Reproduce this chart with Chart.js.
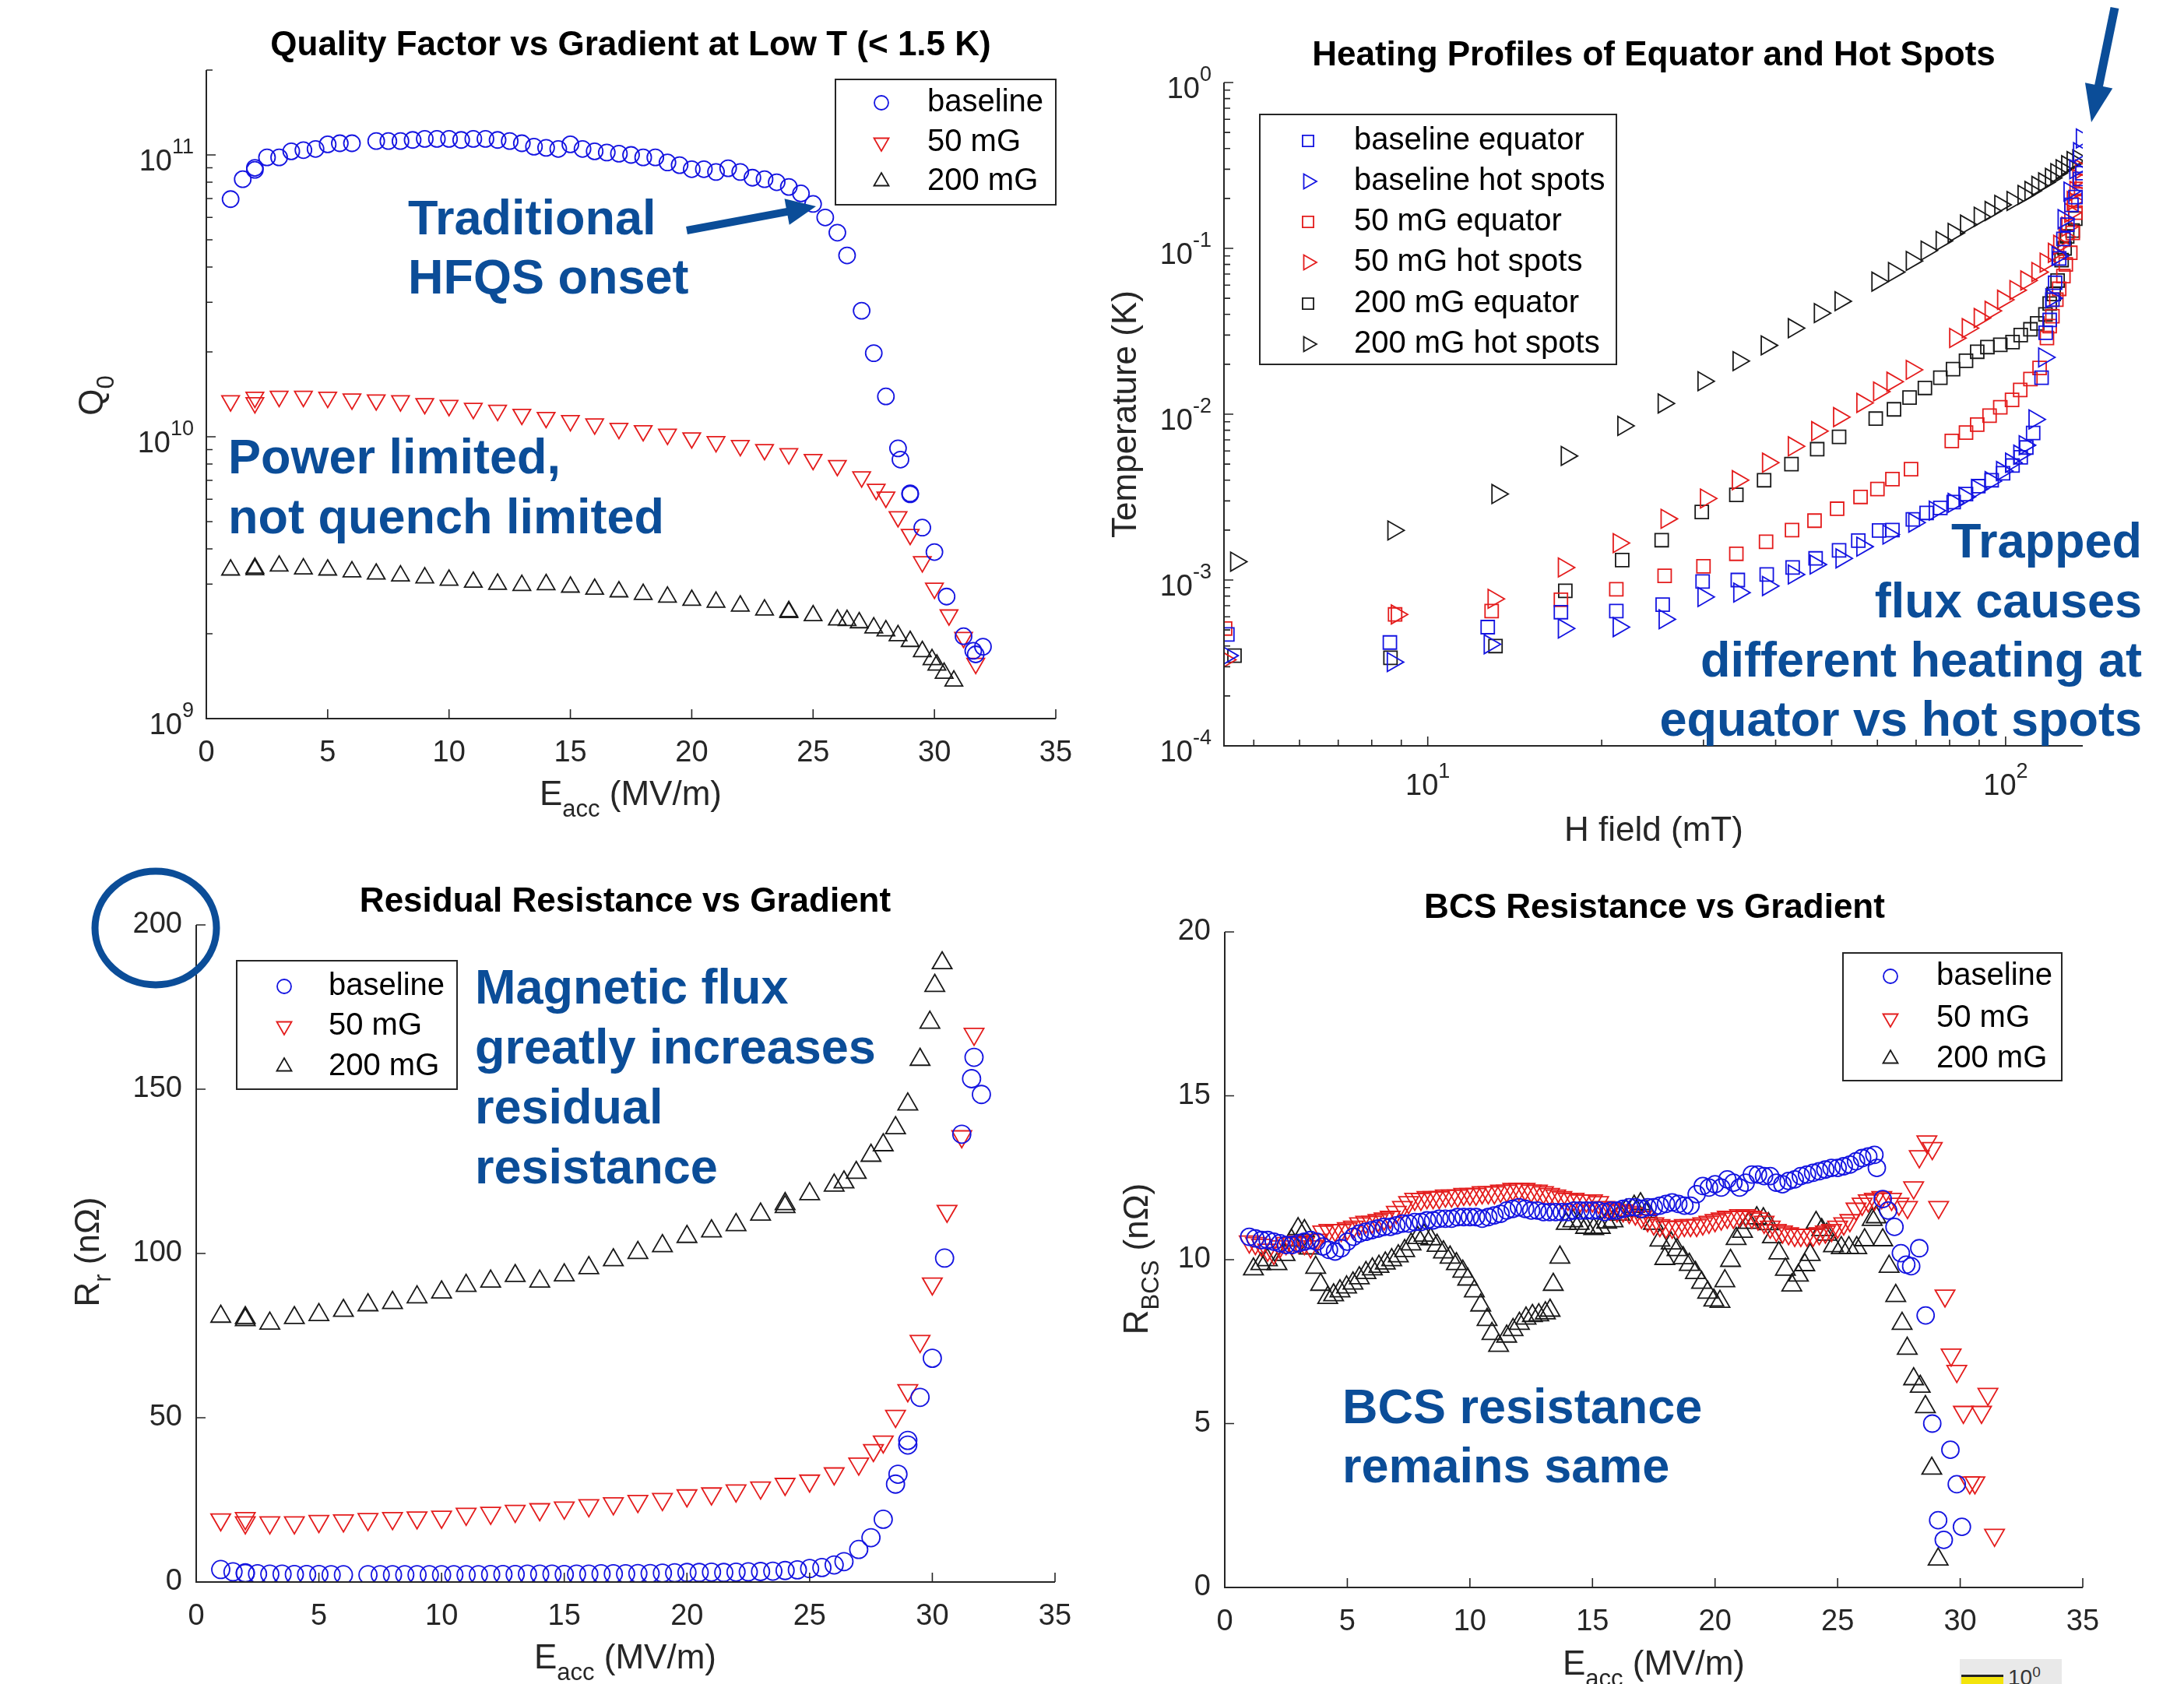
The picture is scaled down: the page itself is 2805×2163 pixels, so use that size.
<!DOCTYPE html>
<html>
<head>
<meta charset="utf-8">
<script src="https://cdn.jsdelivr.net/npm/chart.js@4.4.1/dist/chart.umd.min.js"></script>
<style>
    html, body { margin: 0; padding: 0; background: #fff; }
    body { width: 2805px; height: 2163px; position: relative; overflow: hidden; }
    canvas { position: absolute; }
    #cbar { position: absolute; left: 2517px; top: 2131px; width: 131px; height: 40px; background: #e9e9e9; }
    #cbarFill { position: absolute; left: 2px; top: 20px; width: 54px; height: 20px; background: #f3e40c; border-top: 3px solid #222; }
    #cbarTxt { position: absolute; left: 62px; top: 6px; font: 28px "Liberation Sans", Arial, sans-serif; color: #333; }
    #cbarTxt sup { font-size: 19px; }
</style>
</head>
<body>
<canvas id="qChart"></canvas>
<canvas id="tempChart"></canvas>
<canvas id="rresChart"></canvas>
<canvas id="bcsChart"></canvas>
<div id="cbar"><div id="cbarFill"></div><span id="cbarTxt">10<sup>0</sup></span></div>
<script>
// Colours and fonts
const INK = '#262626';
const NOTE = '#0b4d98';
const BLUE = 'rgb(20,20,225)';
const RED = 'rgb(228,28,28)';
const BLACK = 'rgb(25,25,25)';
const FAMILY = '"Liberation Sans", Arial, Helvetica, sans-serif';

// ---- Quality factor vs gradient (top left) ----
const qBaseE = [1, 1.5, 2, 2, 2.5, 3, 3.5, 4, 4.5, 5,
    5.5, 6, 7, 7.5, 8, 8.5, 9, 9.5, 10, 10.5,
    11, 11.5, 12, 12.5, 13, 13.5, 14, 14.5, 15, 15.5,
    16, 16.5, 17, 17.5, 18, 18.5, 19, 19.5, 20, 20.5,
    21, 21.5, 22, 22.5, 23, 23.5, 24, 24.5, 25, 25.5,
    26, 26.4, 27, 27.5, 28, 28.5, 28.6, 29, 29, 29.5,
    30, 30.5, 31.2, 31.6, 31.7, 32];
const qBaseQ = [6.97e10, 8.2e10, 8.85e10, 9.0e10, 9.8e10, 9.8e10, 1.03e11, 1.04e11, 1.05e11, 1.09e11,
    1.1e11, 1.1e11, 1.12e11, 1.12e11, 1.12e11, 1.13e11, 1.14e11, 1.14e11, 1.14e11, 1.13e11,
    1.14e11, 1.14e11, 1.13e11, 1.12e11, 1.10e11, 1.07e11, 1.06e11, 1.05e11, 1.09e11, 1.05e11,
    1.03e11, 1.02e11, 1.01e11, 1.0e11, 9.8e10, 9.8e10, 9.4e10, 9.2e10, 8.9e10, 8.9e10,
    8.7e10, 8.97e10, 8.7e10, 8.3e10, 8.2e10, 8.0e10, 7.7e10, 7.3e10, 6.7e10, 6.0e10,
    5.3e10, 4.4e10, 2.8e10, 1.98e10, 1.39e10, 9.1e9, 8.3e9, 6.3e9, 6.25e9, 4.76e9,
    3.9e9, 2.71e9, 1.96e9, 1.74e9, 1.69e9, 1.8e9];
const q50E = [1, 2, 2, 3, 4, 5, 6, 7, 8, 9,
    10, 11, 12, 13, 14, 15, 16, 17, 18, 19,
    20, 21, 22, 23, 24, 25, 26, 27, 27.6, 28,
    28.5, 29, 29.5, 30, 30.6, 31.2, 31.7];
const q50Q = [1.34e10, 1.38e10, 1.32e10, 1.39e10, 1.39e10, 1.38e10, 1.36e10, 1.35e10, 1.34e10, 1.31e10,
    1.29e10, 1.26e10, 1.24e10, 1.2e10, 1.17e10, 1.14e10, 1.11e10, 1.07e10, 1.05e10, 1.02e10,
    9.9e9, 9.6e9, 9.3e9, 9.0e9, 8.7e9, 8.3e9, 7.9e9, 7.2e9, 6.5e9, 6.1e9,
    5.2e9, 4.5e9, 3.6e9, 2.9e9, 2.33e9, 1.94e9, 1.57e9];
const q200E = [1, 2, 2, 3, 4, 5, 6, 7, 8, 9,
    10, 11, 12, 13, 14, 15, 16, 17, 18, 19,
    20, 21, 22, 23, 24, 24, 25, 26, 26.4, 26.9,
    27.5, 28, 28.5, 29, 29.5, 29.9, 30.1, 30.4, 30.8];
const q200Q = [3.37e9, 3.42e9, 3.38e9, 3.48e9, 3.4e9, 3.37e9, 3.32e9, 3.26e9, 3.21e9, 3.16e9,
    3.1e9, 3.05e9, 3.0e9, 2.97e9, 2.99e9, 2.93e9, 2.88e9, 2.82e9, 2.76e9, 2.7e9,
    2.63e9, 2.59e9, 2.51e9, 2.43e9, 2.4e9, 2.38e9, 2.32e9, 2.24e9, 2.23e9, 2.19e9,
    2.1e9, 2.05e9, 1.97e9, 1.88e9, 1.73e9, 1.62e9, 1.55e9, 1.45e9, 1.36e9];

// ---- Residual resistance vs gradient (bottom left), same gradients as above ----
const rrBase = [3.8, 3.1, 2.8, 2.6, 2.5, 2.4, 2.4, 2.3, 2.3, 2.3,
    2.2, 2.2, 2.2, 2.2, 2.2, 2.2, 2.2, 2.2, 2.2, 2.2,
    2.2, 2.2, 2.3, 2.3, 2.3, 2.4, 2.4, 2.4, 2.3, 2.4,
    2.4, 2.5, 2.5, 2.5, 2.6, 2.6, 2.7, 2.8, 2.9, 2.9,
    3.0, 2.9, 3.0, 3.1, 3.2, 3.3, 3.5, 3.7, 4.1, 4.4,
    5.2, 6.2, 9.9, 13.5, 19.1, 29.8, 32.8, 43.1, 41.7, 56.2,
    68.1, 98.6, 136.3, 153.2, 159.7, 148.4];
const rr50 = [19.0, 19.4, 18.1, 18.1, 18.1, 18.5, 18.7, 19.1, 19.4, 19.6,
    19.8, 20.7, 21.0, 21.6, 22.1, 22.6, 23.3, 23.9, 24.6, 25.2,
    26.3, 26.9, 27.8, 28.7, 29.8, 30.8, 33.0, 36.0, 40.1, 42.7,
    50.5, 58.3, 73.3, 90.8, 112.9, 135.6, 166.8];
const rr200 = [80.8, 80.4, 79.8, 78.7, 80.4, 81.3, 82.6, 84.3, 85.0, 86.7,
    88.2, 90.2, 91.5, 93.2, 91.5, 93.4, 95.6, 98.0, 100.2, 102.3,
    105.1, 106.8, 108.7, 111.9, 115.1, 114.2, 118.1, 120.7, 121.7, 124.6,
    129.8, 133.0, 138.2, 145.4, 159.0, 170.3, 181.5, 188.4, 230];

// ---- Heating profiles (top right): H field (mT) and temperature (K) ----
const bEqH = [4.5, 8.6, 12.7, 17.0, 21.2, 25.5, 29.9, 34.4, 38.6, 42.8,
    46.9, 51.5, 55.6, 60.4, 63.7, 69.1, 73.0, 77.1, 81.3, 85.4,
    89.7, 94.6, 99.0, 102.8, 106.2, 108.6, 111.6, 115.4, 117.3, 119.2,
    120.5, 121.8, 123.8, 125.9, 127.9, 130.0, 132.1, 134.5, 135.8];
const bEqT = [4.7e-4, 4.2e-4, 5.2e-4, 6.4e-4, 6.5e-4, 7.1e-4, 9.8e-4, 1.0e-3, 1.08e-3, 1.19e-3,
    1.35e-3, 1.51e-3, 1.73e-3, 1.99e-3, 2.0e-3, 2.32e-3, 2.54e-3, 2.72e-3, 2.95e-3, 3.3e-3,
    3.68e-3, 4.0e-3, 4.4e-3, 4.9e-3, 5.5e-3, 6.3e-3, 7.7e-3, 1.66e-2, 3.1e-2, 3.7e-2,
    4.9e-2, 6.2e-2, 8.7e-2, 0.114, 0.139, 0.183, 0.204, 0.262, 0.284];
const bHsH = [4.5, 8.7, 12.8, 17.2, 21.4, 25.7, 30.0, 34.6, 38.8, 43.0,
    46.9, 52.0, 56.5, 62.7, 69.5, 75.4, 81.3, 84.9, 89.3, 94.2,
    98.6, 102.2, 105.6, 107.9, 112.2, 116.6, 120.0, 123.0, 126.0, 129.0,
    132.0, 134.0, 135.5];
const bHsT = [3.5e-4, 3.2e-4, 4.1e-4, 5.1e-4, 5.2e-4, 5.8e-4, 7.9e-4, 8.4e-4, 9.2e-4, 1.08e-3,
    1.24e-3, 1.35e-3, 1.59e-3, 1.88e-3, 2.22e-3, 2.62e-3, 2.92e-3, 3.17e-3, 3.54e-3, 3.95e-3,
    4.54e-3, 5.1e-3, 5.7e-3, 6.5e-3, 9.3e-3, 2.2e-2, 5.0e-2, 9.0e-2, 0.15, 0.22,
    0.30, 0.38, 0.46];
const rEqH = [4.46, 8.78, 12.9, 17.0, 21.2, 25.7, 30.0, 34.2, 38.5, 42.7,
    46.7, 51.1, 56.1, 60.0, 63.7, 68.6, 80.7, 85.4, 89.3, 93.8,
    97.9, 102.6, 106.0, 110.4, 114.5, 117.9, 119.2, 120.5, 122.4, 123.8,
    125.9, 127.1, 129.4, 130.7, 132.1, 133.6, 135.1, 135.9];
const rEqT = [5.1e-4, 6.2e-4, 6.5e-4, 7.6e-4, 8.8e-4, 1.06e-3, 1.21e-3, 1.44e-3, 1.7e-3, 2.0e-3,
    2.28e-3, 2.69e-3, 3.17e-3, 3.54e-3, 4.06e-3, 4.66e-3, 6.9e-3, 7.75e-3, 8.65e-3, 9.8e-3,
    1.1e-2, 1.22e-2, 1.4e-2, 1.63e-2, 1.9e-2, 2.88e-2, 3.4e-2, 3.9e-2, 4.9e-2, 5.7e-2,
    6.8e-2, 8.0e-2, 9.4e-2, 0.124, 0.164, 0.193, 0.228, 0.254];
const rHsH = [4.46, 8.84, 13.0, 17.2, 21.4, 25.9, 30.3, 34.4, 38.8, 43.0,
    47.2, 51.5, 56.5, 60.4, 63.7, 68.8, 81.8, 86.0, 90.2, 94.2,
    99.0, 104.0, 108.6, 113.5, 117.3, 121.2, 123.8, 126.5, 127.9, 129.4,
    130.7, 132.1, 133.6, 135.0];
const rHsT = [3.3e-4, 6.2e-4, 7.7e-4, 1.19e-3, 1.67e-3, 2.34e-3, 3.1e-3, 4.0e-3, 5.1e-3, 6.4e-3,
    7.9e-3, 9.6e-3, 1.17e-2, 1.37e-2, 1.57e-2, 1.85e-2, 2.88e-2, 3.3e-2, 3.8e-2, 4.2e-2,
    4.9e-2, 5.6e-2, 6.4e-2, 7.2e-2, 8.2e-2, 9.4e-2, 0.105, 0.117, 0.135, 0.164,
    0.193, 0.222, 0.262, 0.30];
const kEqH = [4.63, 8.62, 13.1, 17.3, 21.7, 25.4, 29.8, 34.2, 38.2, 42.6,
    47.2, 51.5, 59.6, 64.1, 68.2, 72.5, 77.1, 81.1, 85.4, 89.3,
    93.0, 97.9, 102.8, 106.2, 110.4, 113.4, 117.2, 119.2, 121.1, 123.0,
    125.0, 126.5, 127.8, 130.6, 132.0];
const kEqT = [3.5e-4, 3.4e-4, 4.0e-4, 8.6e-4, 1.32e-3, 1.74e-3, 2.57e-3, 3.26e-3, 4.0e-3, 5.0e-3,
    6.15e-3, 7.3e-3, 9.4e-3, 1.07e-2, 1.26e-2, 1.44e-2, 1.66e-2, 1.87e-2, 2.1e-2, 2.38e-2,
    2.54e-2, 2.62e-2, 2.72e-2, 3.0e-2, 3.25e-2, 3.53e-2, 4.0e-2, 4.65e-2, 5.3e-2, 6.4e-2,
    8.5e-2, 0.10, 0.118, 0.128, 0.151];
const kHsH = [4.66, 8.72, 13.2, 17.4, 21.8, 25.6, 30.0, 34.5, 38.6, 43.0,
    47.7, 51.8, 60.0, 64.1, 68.8, 73.0, 77.5, 81.3, 85.4, 90.2,
    94.2, 97.9, 102.8, 107.4, 110.4, 113.5, 116.6, 119.8, 122.4, 125.0,
    127.8, 130.6, 133.6];
const kHsT = [1.29e-3, 1.99e-3, 3.3e-3, 5.6e-3, 8.5e-3, 1.16e-2, 1.58e-2, 2.09e-2, 2.6e-2, 3.3e-2,
    4.07e-2, 4.8e-2, 6.3e-2, 7.2e-2, 8.4e-2, 9.7e-2, 0.111, 0.124, 0.139, 0.155,
    0.168, 0.183, 0.193, 0.21, 0.222, 0.238, 0.25, 0.266, 0.284, 0.30,
    0.317, 0.336, 0.344];

// ---- BCS resistance vs gradient (bottom right) ----
const bcsBaseE = [1, 1.25, 1.5, 1.75, 2, 2.25, 2.5, 2.75, 3, 3.25, 3.5, 3.75,
    4, 4.25, 4.5, 4.75, 5, 5.25, 5.5, 5.75, 6, 6.25, 6.5, 6.75,
    7, 7.25, 7.5, 7.75, 8, 8.25, 8.5, 8.75, 9, 9.25, 9.5, 9.75,
    10, 10.25, 10.5, 10.75, 11, 11.25, 11.5, 11.75, 12, 12.25, 12.5, 12.75,
    13, 13.25, 13.5, 13.75, 14, 14.25, 14.5, 14.75, 15, 15.25, 15.5, 15.75,
    16, 16.25, 16.5, 16.75, 17, 17.25, 17.5, 17.75, 18, 18.25, 18.5, 18.75,
    19, 19.25, 19.5, 19.75, 20, 20.25, 20.5, 20.75, 21, 21.25, 21.5, 21.75,
    22, 22.25, 22.5, 22.75, 23, 23.25, 23.5, 23.75, 24, 24.25, 24.5, 24.75,
    25, 25.25, 25.5, 25.75, 26, 26.25, 26.5,
    26.6, 26.84, 27.06, 27.32, 27.58, 27.8, 28.0, 28.33, 28.59, 28.86, 29.1, 29.33, 29.6, 29.86, 30.07];
const bcsBaseR = [10.7, 10.65, 10.6, 10.6, 10.55, 10.5, 10.45, 10.45, 10.5, 10.55, 10.6, 10.55,
    10.4, 10.3, 10.25, 10.35, 10.55, 10.7, 10.8, 10.85, 10.9, 10.95, 11.0, 11.0,
    11.05, 11.1, 11.1, 11.15, 11.15, 11.2, 11.2, 11.25, 11.25, 11.25, 11.3, 11.3,
    11.3, 11.3, 11.25, 11.3, 11.35, 11.4, 11.5, 11.55, 11.6, 11.55, 11.5, 11.5,
    11.45, 11.45, 11.45, 11.45, 11.45, 11.5, 11.5, 11.5, 11.5, 11.5, 11.45, 11.5,
    11.5, 11.55, 11.6, 11.6, 11.55, 11.6, 11.6, 11.65, 11.7, 11.75, 11.7, 11.65,
    11.65, 12.0, 12.25, 12.2, 12.3, 12.2, 12.45, 12.35, 12.2, 12.35, 12.6, 12.6,
    12.55, 12.55, 12.35, 12.3, 12.4, 12.45, 12.55, 12.6, 12.65, 12.7, 12.75, 12.8,
    12.8, 12.85, 12.9, 13.0, 13.1, 13.15, 13.2,
    12.8, 11.85, 11.5, 11.0, 10.2, 9.85, 9.8, 10.35, 8.3, 5.0, 2.05, 1.45, 4.2, 3.15, 1.85];
const bcs50E = [1, 1.25, 1.5, 1.75, 2, 2.25, 2.5, 2.75, 3, 3.25, 3.5, 3.75,
    4, 4.25, 4.5, 4.75, 5, 5.25, 5.5, 5.75, 6, 6.25, 6.5, 6.75,
    7, 7.25, 7.5, 7.75, 8, 8.25, 8.5, 8.75, 9, 9.25, 9.5, 9.75,
    10, 10.25, 10.5, 10.75, 11, 11.25, 11.5, 11.75, 12, 12.25, 12.5, 12.75,
    13, 13.25, 13.5, 13.75, 14, 14.25, 14.5, 14.75, 15, 15.25, 15.5, 15.75,
    16, 16.25, 16.5, 16.75, 17, 17.25, 17.5, 17.75, 18, 18.25, 18.5, 18.75,
    19, 19.25, 19.5, 19.75, 20, 20.25, 20.5, 20.75, 21, 21.25, 21.5, 21.75,
    22, 22.25, 22.5, 22.75, 23, 23.25, 23.5, 23.75, 24, 24.25, 24.5, 24.75,
    25, 25.25, 25.5, 25.75, 26, 26.25, 26.5,
    26.8, 27.2, 27.5, 27.85, 28.1, 28.33, 28.64, 28.86, 29.12, 29.38, 29.63, 29.86, 30.13, 30.39, 30.6, 30.87, 31.13, 31.4];
const bcs50R = [10.55, 10.5, 10.45, 10.3, 10.2, 10.4, 10.5, 10.5, 10.55, 10.5, 10.4, 10.6,
    10.85, 10.9, 10.9, 10.9, 10.95, 11.0, 11.1, 11.15, 11.15, 11.2, 11.25, 11.3,
    11.45, 11.6, 11.75, 11.85, 11.85, 11.9, 11.9, 11.9, 11.95, 11.95, 11.95, 12.0,
    12.0, 12.0, 12.05, 12.05, 12.05, 12.1, 12.1, 12.15, 12.15, 12.15, 12.1, 12.1,
    12.05, 12.0, 11.95, 11.9, 11.85, 11.85, 11.8, 11.8, 11.8, 11.75, 11.6, 11.55,
    11.5, 11.5, 11.45, 11.4, 11.3, 11.2, 11.1, 11.05, 11.0, 11.0, 11.0, 11.05,
    11.05, 11.05, 11.1, 11.15, 11.2, 11.25, 11.3, 11.3, 11.35, 11.35, 11.3, 11.25,
    11.15, 11.0, 10.9, 10.85, 10.8, 10.75, 10.75, 10.75, 10.75, 10.8, 10.85, 10.9,
    11.0, 11.1, 11.2, 11.55, 11.7, 11.8, 11.85,
    11.9, 11.85, 11.7, 11.6, 12.2, 13.15, 13.6, 13.4, 11.6, 8.9, 7.1, 6.6, 5.35, 3.2, 3.2, 5.35, 5.9, 1.6];
const bcs200E = [1.17, 1.47, 1.74, 2.13, 2.46, 2.72, 2.99, 3.25, 3.45, 3.71,
    3.91, 4.2, 4.44, 4.7, 4.97, 5.23, 5.49, 5.76, 6.02, 6.29,
    6.55, 6.81, 7.08, 7.34, 7.6, 7.87, 8.13, 8.4, 8.66, 8.92,
    9.19, 9.45, 9.71, 9.91, 10.18, 10.44, 10.7, 10.9, 11.17, 11.5,
    11.76, 12.02, 12.29, 12.55, 12.81, 13.08, 13.27, 13.4, 13.67, 13.93,
    14.2, 14.46, 14.72, 15.05, 15.32, 15.58, 15.84, 16.11, 16.37, 16.7,
    16.96, 17.22, 17.49, 17.75, 17.95, 18.21, 18.45, 18.7, 18.95, 19.2,
    19.45, 19.7, 19.95, 20.2, 20.4, 20.63, 20.86, 21.12, 21.39, 21.7,
    21.97, 22.18, 22.34, 22.6, 22.87, 23.13, 23.4, 23.66, 23.88, 24.12,
    24.35, 24.56, 24.83, 25.15, 25.46, 25.78, 26.1, 26.41, 26.57, 26.84,
    27.1, 27.37, 27.63, 27.84, 28.1, 28.37, 28.58, 28.84, 29.1];
const bcs200R = [9.71, 9.87, 9.99, 9.87, 10.15, 10.59, 10.94, 10.88, 10.35, 9.76,
    9.24, 8.84, 8.92, 9.04, 9.16, 9.28, 9.44, 9.6, 9.71, 9.79,
    9.89, 9.99, 10.11, 10.27, 10.47, 10.67, 10.74, 10.63, 10.43, 10.23,
    10.07, 9.87, 9.64, 9.4, 9.04, 8.61, 8.17, 7.74, 7.38, 7.66,
    7.86, 8.05, 8.21, 8.29, 8.31, 8.37, 8.45, 9.24, 10.07, 11.1,
    11.18, 11.1, 10.98, 10.94, 10.98, 11.14, 11.18, 11.38, 11.5, 11.62,
    11.7, 11.46, 11.1, 10.59, 10.03, 10.5, 10.3, 10.05, 9.85, 9.6,
    9.3, 9.0, 8.76, 8.72, 9.35, 9.97, 10.64, 10.86, 11.13, 11.27,
    11.24, 11.09, 10.69, 10.2, 9.7, 9.22, 9.52, 9.84, 10.15, 11.13,
    10.91, 10.77, 10.42, 10.36, 10.36, 10.36, 10.6, 11.22, 11.3, 10.6,
    9.79, 8.9, 8.05, 7.29, 6.36, 6.13, 5.51, 3.63, 0.86];

// Tick values
const gradTicks = [0, 5, 10, 15, 20, 25, 30, 35];
function minorLog(decades) {
    const out = [];
    decades.forEach(d => { for (let k = 2; k <= 9; k++) out.push(k * d); });
    return out;
}

// Build {x, y} points for the library
function pts(xs, ys) {
    return xs.map((x, i) => ({ x: x, y: ys[i] }));
}

function series(label, xs, ys, color, style, rot, r) {
    return {
        label: label,
        data: pts(xs, ys),
        showLine: false,
        pointStyle: style,
        pointRotation: rot,
        pointRadius: r,
        pointHoverRadius: r,
        pointBorderWidth: 1.8,
        pointBorderColor: color,
        borderColor: color,
        pointBackgroundColor: 'rgba(0,0,0,0)',
        backgroundColor: 'rgba(0,0,0,0)'
    };
}

// Text helpers
function fontOf(r) {
    return (r.b ? 'bold ' : '') + r.s + 'px ' + FAMILY;
}

function drawRuns(ctx, runs, x, y, align) {
    let total = 0;
    runs.forEach(r => { ctx.font = fontOf(r); r.w = ctx.measureText(r.t).width; total += r.w; });
    let cx = align === 'center' ? x - total / 2 : (align === 'right' ? x - total : x);
    ctx.textAlign = 'left';
    ctx.textBaseline = 'middle';
    runs.forEach(r => {
        ctx.font = fontOf(r);
        ctx.fillText(r.t, cx, y + (r.dy || 0));
        cx += r.w;
    });
}

function powRuns(e) {
    return [{ t: '10', s: 38 }, { t: String(e), s: 27, dy: -19 }];
}

function drawMarker(ctx, style, rot, r, x, y, color) {
    ctx.save();
    ctx.strokeStyle = color;
    ctx.lineWidth = 1.8;
    ctx.beginPath();
    if (style === 'circle') {
        ctx.arc(x, y, r, 0, Math.PI * 2);
    } else if (style === 'rect') {
        const h = r * Math.SQRT1_2;
        ctx.rect(x - h, y - h, 2 * h, 2 * h);
    } else {
        let a = (rot || 0) * Math.PI / 180;
        ctx.moveTo(x + Math.sin(a) * r, y - Math.cos(a) * r);
        for (let k = 0; k < 2; k++) {
            a += Math.PI * 2 / 3;
            ctx.lineTo(x + Math.sin(a) * r, y - Math.cos(a) * r);
        }
        ctx.closePath();
    }
    ctx.stroke();
    ctx.restore();
}

function drawArrow(ctx, a) {
    const ang = Math.atan2(a.y2 - a.y1, a.x2 - a.x1);
    const bx = a.x2 - Math.cos(ang) * a.hl;
    const by = a.y2 - Math.sin(ang) * a.hl;
    ctx.strokeStyle = NOTE;
    ctx.fillStyle = NOTE;
    ctx.lineWidth = a.w;
    ctx.lineCap = 'butt';
    ctx.beginPath();
    ctx.moveTo(a.x1, a.y1);
    ctx.lineTo(bx + Math.cos(ang) * 2, by + Math.sin(ang) * 2);
    ctx.stroke();
    const nx = -Math.sin(ang) * a.hw / 2;
    const ny = Math.cos(ang) * a.hw / 2;
    ctx.beginPath();
    ctx.moveTo(a.x2, a.y2);
    ctx.lineTo(bx + nx, by + ny);
    ctx.lineTo(bx - nx, by - ny);
    ctx.closePath();
    ctx.fill();
}

// MATLAB-like axes, labels, legend and notes
function decorPlugin(box, d) {
    return {
        id: 'decor',
        afterDraw(chart) {
            const ctx = chart.ctx;
            const a = chart.chartArea;
            const xs = chart.scales.x;
            const ys = chart.scales.y;
            ctx.save();

            // axis lines
            ctx.strokeStyle = INK;
            ctx.lineWidth = 2;
            ctx.beginPath();
            ctx.moveTo(a.left, a.top);
            ctx.lineTo(a.left, a.bottom);
            ctx.lineTo(a.right, a.bottom);
            ctx.stroke();

            // inward ticks
            ctx.lineWidth = 1.6;
            ctx.beginPath();
            d.xMajor.forEach(v => { const p = xs.getPixelForValue(v); ctx.moveTo(p, a.bottom); ctx.lineTo(p, a.bottom - 12); });
            (d.xMinor || []).forEach(v => { const p = xs.getPixelForValue(v); ctx.moveTo(p, a.bottom); ctx.lineTo(p, a.bottom - 8); });
            d.yMajor.forEach(v => { const p = ys.getPixelForValue(v); ctx.moveTo(a.left, p); ctx.lineTo(a.left + 12, p); });
            (d.yMinor || []).forEach(v => { const p = ys.getPixelForValue(v); ctx.moveTo(a.left, p); ctx.lineTo(a.left + 8, p); });
            ctx.stroke();

            // power-of-ten tick labels
            ctx.fillStyle = INK;
            (d.xLog || []).forEach(e => drawRuns(ctx, powRuns(e), xs.getPixelForValue(Math.pow(10, e)), a.bottom + 53, 'center'));
            (d.yLog || []).forEach(e => drawRuns(ctx, powRuns(e), a.left - 16, ys.getPixelForValue(Math.pow(10, e)) + 10, 'right'));

            // everything below in page coordinates
            ctx.translate(-box.x, -box.y);

            ctx.fillStyle = '#000';
            drawRuns(ctx, [{ t: d.title.t, s: 44, b: true }], d.title.x, d.title.y, 'center');

            ctx.fillStyle = INK;
            drawRuns(ctx, d.xLabel.runs, d.xLabel.x, d.xLabel.y, 'center');
            ctx.save();
            ctx.translate(d.yLabel.x, d.yLabel.y);
            ctx.rotate(-Math.PI / 2);
            drawRuns(ctx, d.yLabel.runs, 0, 0, 'center');
            ctx.restore();

            // legend
            const lg = d.legend;
            ctx.fillStyle = '#fff';
            ctx.fillRect(lg.x1, lg.y1, lg.x2 - lg.x1, lg.y2 - lg.y1);
            ctx.strokeStyle = INK;
            ctx.lineWidth = 2;
            ctx.strokeRect(lg.x1, lg.y1, lg.x2 - lg.x1, lg.y2 - lg.y1);
            chart.data.datasets.forEach((ds, i) => {
                const y = lg.rows[i];
                const r = ds.pointStyle === 'rect' ? 10 : (ds.pointStyle === 'circle' ? 9 : 11);
                drawMarker(ctx, ds.pointStyle, ds.pointRotation, r, lg.mx, y, ds.pointBorderColor);
                ctx.fillStyle = '#000';
                drawRuns(ctx, [{ t: ds.label, s: 40 }], lg.tx, y, 'left');
            });

            // notes
            ctx.fillStyle = NOTE;
            ctx.font = 'bold 63px ' + FAMILY;
            ctx.textBaseline = 'alphabetic';
            (d.notes || []).forEach(n => {
                ctx.textAlign = n.align || 'left';
                n.lines.forEach((t, i) => ctx.fillText(t, n.x, n.base[i]));
            });
            (d.arrows || []).forEach(ar => drawArrow(ctx, ar));
            if (d.ring) {
                ctx.strokeStyle = NOTE;
                ctx.lineWidth = 9;
                ctx.beginPath();
                ctx.ellipse(d.ring.x, d.ring.y, d.ring.rx, d.ring.ry, 0, 0, Math.PI * 2);
                ctx.stroke();
            }
            ctx.restore();
        }
    };
}

function linearAxis(min, max, step, pad) {
    return {
        type: 'linear', min: min, max: max,
        grid: { display: false, drawTicks: false },
        border: { display: false },
        ticks: { stepSize: step, autoSkip: false, maxRotation: 0, padding: pad, color: INK, font: { family: FAMILY, size: 38 } }
    };
}

function logAxis(min, max) {
    return {
        type: 'logarithmic', min: min, max: max,
        grid: { display: false, drawTicks: false },
        border: { display: false },
        ticks: { display: false }
    };
}

function makeChart(id, box, plot, xAxis, yAxis, datasets, decor) {
    const cv = document.getElementById(id);
    cv.width = box.w;
    cv.height = box.h;
    cv.style.left = box.x + 'px';
    cv.style.top = box.y + 'px';
    xAxis.afterFit = s => { s.height = box.y + box.h - plot.bottom; };
    yAxis.afterFit = s => { s.width = plot.left - box.x; };
    return new Chart(cv, {
        type: 'scatter',
        data: { datasets: datasets },
        options: {
            responsive: false,
            animation: false,
            devicePixelRatio: 1,
            events: [],
            layout: { padding: { left: 0, top: plot.top - box.y, right: box.x + box.w - plot.right, bottom: 0 } },
            plugins: { legend: { display: false }, tooltip: { enabled: false }, title: { display: false } },
            scales: { x: xAxis, y: yAxis }
        },
        plugins: [decorPlugin(box, decor)]
    });
}

const eaccRuns = () => [{ t: 'E', s: 44 }, { t: 'acc', s: 31, dy: 18 }, { t: ' (MV/m)', s: 44 }];
const nOhm = ' (n\u03A9)';

// Top left
makeChart('qChart', { x: 0, y: 0, w: 1400, h: 1100 }, { left: 265, top: 90, right: 1356, bottom: 923 },
    linearAxis(0, 35, 5, 22), logAxis(1e9, 2e11),
    [
        series('baseline', qBaseE, qBaseQ, BLUE, 'circle', 0, 10.5),
        series('50 mG', q50E, q50Q, RED, 'triangle', 180, 13),
        series('200 mG', q200E, q200Q, BLACK, 'triangle', 0, 13)
    ],
    {
        xMajor: gradTicks,
        yMajor: [1e9, 1e10, 1e11],
        yMinor: minorLog([1e9, 1e10]).concat([2e11]),
        yLog: [9, 10, 11],
        title: { t: 'Quality Factor vs Gradient at Low T (< 1.5 K)', x: 810, y: 59 },
        xLabel: { runs: eaccRuns(), x: 810, y: 1022 },
        yLabel: { runs: [{ t: 'Q', s: 44 }, { t: '0', s: 31, dy: 17 }], x: 120, y: 508 },
        legend: { x1: 1073, y1: 102, x2: 1356, y2: 263, rows: [132, 183, 233], mx: 1132, tx: 1191 },
        notes: [
            { lines: ['Traditional', 'HFQS onset'], x: 524, base: [301, 377] },
            { lines: ['Power limited,', 'not quench limited'], x: 293, base: [608, 685] }
        ],
        arrows: [{ x1: 882, y1: 296, x2: 1048, y2: 265, w: 10, hl: 38, hw: 34 }]
    });

// Top right
makeChart('tempChart', { x: 1400, y: 0, w: 1405, h: 1110 }, { left: 1572, top: 106, right: 2675, bottom: 958 },
    logAxis(4.44, 136), logAxis(1e-4, 1),
    [
        series('baseline equator', bEqH, bEqT, BLUE, 'rect', 0, 12),
        series('baseline hot spots', bHsH, bHsT, BLUE, 'triangle', 90, 14),
        series('50 mG equator', rEqH, rEqT, RED, 'rect', 0, 12),
        series('50 mG hot spots', rHsH, rHsT, RED, 'triangle', 90, 14),
        series('200 mG equator', kEqH, kEqT, BLACK, 'rect', 0, 12),
        series('200 mG hot spots', kHsH, kHsT, BLACK, 'triangle', 90, 14)
    ],
    {
        xMajor: [10, 100],
        xMinor: [5, 6, 7, 8, 9, 20, 30, 40, 50, 60, 70, 80, 90],
        yMajor: [1e-4, 1e-3, 1e-2, 1e-1, 1],
        yMinor: minorLog([1e-4, 1e-3, 1e-2, 1e-1]),
        xLog: [1, 2],
        yLog: [0, -1, -2, -3, -4],
        title: { t: 'Heating Profiles of Equator and Hot Spots', x: 2124, y: 72 },
        xLabel: { runs: [{ t: 'H field (mT)', s: 44 }], x: 2124, y: 1068 },
        yLabel: { runs: [{ t: 'Temperature (K)', s: 44 }], x: 1447, y: 532 },
        legend: { x1: 1618, y1: 147, x2: 2076, y2: 468, rows: [181, 233, 285, 337, 390, 442], mx: 1680, tx: 1739 },
        notes: [
            { lines: ['Trapped', 'flux causes', 'different heating at', 'equator vs hot spots'], x: 2751, base: [716, 793, 869, 945], align: 'right' }
        ],
        arrows: [{ x1: 2716, y1: 10, x2: 2686, y2: 157, w: 11, hl: 48, hw: 36 }]
    });

// Bottom left
makeChart('rresChart', { x: 0, y: 1080, w: 1400, h: 1083 }, { left: 252, top: 1188, right: 1355, bottom: 2032 },
    linearAxis(0, 35, 5, 22), linearAxis(0, 200, 50, 18),
    [
        series('baseline', qBaseE, rrBase, BLUE, 'circle', 0, 11.5),
        series('50 mG', q50E, rr50, RED, 'triangle', 180, 14.5),
        series('200 mG', q200E, rr200, BLACK, 'triangle', 0, 14.5)
    ],
    {
        xMajor: gradTicks,
        yMajor: [0, 50, 100, 150, 200],
        title: { t: 'Residual Resistance vs Gradient', x: 803, y: 1159 },
        xLabel: { runs: eaccRuns(), x: 803, y: 2131 },
        yLabel: { runs: [{ t: 'R', s: 44 }, { t: 'r', s: 31, dy: 18 }, { t: nOhm, s: 44 }], x: 115, y: 1608 },
        legend: { x1: 304, y1: 1234, x2: 587, y2: 1399, rows: [1267, 1318, 1370], mx: 365, tx: 422 },
        notes: [
            { lines: ['Magnetic flux', 'greatly increases', 'residual', 'resistance'], x: 610, base: [1289, 1366, 1443, 1520] }
        ],
        ring: { x: 200, y: 1192, rx: 78, ry: 73 }
    });

// Bottom right
makeChart('bcsChart', { x: 1400, y: 1080, w: 1405, h: 1083 }, { left: 1573, top: 1197, right: 2675, bottom: 2039 },
    linearAxis(0, 35, 5, 22), linearAxis(0, 20, 5, 18),
    [
        series('baseline', bcsBaseE, bcsBaseR, BLUE, 'circle', 0, 11),
        series('50 mG', bcs50E, bcs50R, RED, 'triangle', 180, 14.5),
        series('200 mG', bcs200E, bcs200R, BLACK, 'triangle', 0, 14.5)
    ],
    {
        xMajor: gradTicks,
        yMajor: [0, 5, 10, 15, 20],
        title: { t: 'BCS Resistance vs Gradient', x: 2125, y: 1167 },
        xLabel: { runs: eaccRuns(), x: 2124, y: 2139 },
        yLabel: { runs: [{ t: 'R', s: 44 }, { t: 'BCS', s: 31, dy: 17 }, { t: nOhm, s: 44 }], x: 1462, y: 1617 },
        legend: { x1: 2367, y1: 1224, x2: 2648, y2: 1388, rows: [1254, 1308, 1360], mx: 2428, tx: 2487 },
        notes: [
            { lines: ['BCS resistance', 'remains same'], x: 1724, base: [1828, 1904] }
        ]
    });
</script>
</body>
</html>
